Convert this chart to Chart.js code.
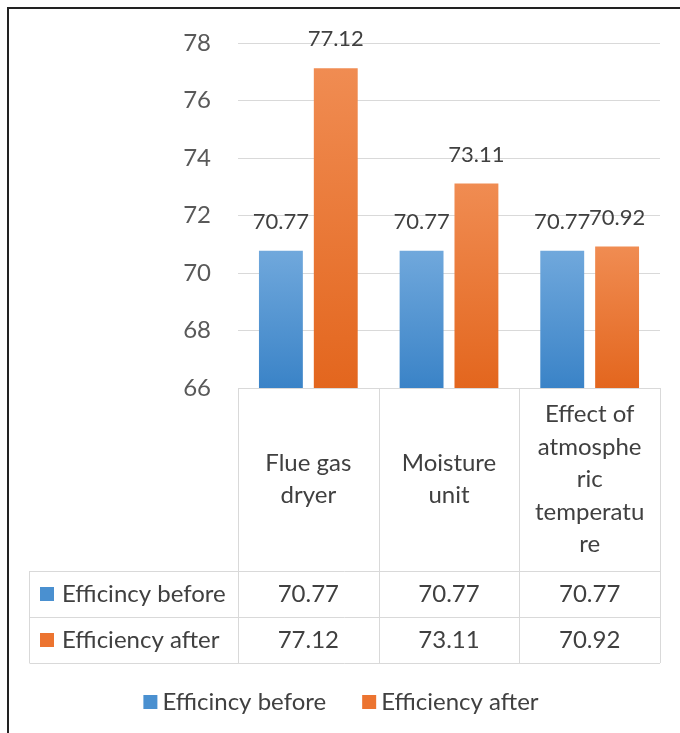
<!DOCTYPE html>
<html>
<head>
<meta charset="utf-8">
<script src="https://cdn.jsdelivr.net/npm/chart.js@4/dist/chart.umd.min.js"></script>
<style>
  html, body { margin: 0; padding: 0; background: #fff; }
  #wrap { position: relative; width: 680px; height: 733px; }
  #frame {
    position: absolute; left: 7px; top: 7px; right: 0; bottom: 0;
    border-left: 2px solid #222; border-top: 2px solid #222;
  }
  canvas { position: absolute; left: 0; top: 0; }
</style>
</head>
<body>
<div id="wrap">
  <div id="frame"></div>
  <canvas id="efficiencyChart" width="680" height="733"></canvas>
</div>
<script>
// chart data
const categories = ['Flue gas dryer', 'Moisture unit', 'Effect of atmospheric temperature'];
// how the category names wrap in the table header
const categoryLines = [
  ['Flue gas', 'dryer'],
  ['Moisture', 'unit'],
  ['Effect of', 'atmosphe', 'ric', 'temperatu', 're']
];
const seriesNames = ['Efficincy before', 'Efficiency after'];
const efficiencyBefore = [70.77, 70.77, 70.77];
const efficiencyAfter = [77.12, 73.11, 70.92];
const yTicks = [66, 68, 70, 72, 74, 76, 78];

const FONT = 'Lato, "Noto Sans", sans-serif';
const TEXT = '#404040';
const LINE = '#d9d9d9';
const swatch = ['#4a90d0', '#ec7430'];

function barGradient(top, bottom) {
  return function (c) {
    const chart = c.chart;
    const y = chart.scales.y;
    if (!y || c.raw === undefined) return bottom;
    const y0 = y.getPixelForValue(c.raw);
    const y1 = y.bottom;
    if (!isFinite(y0) || !isFinite(y1) || y0 === y1) return bottom;
    const g = chart.ctx.createLinearGradient(0, y0, 0, y1);
    g.addColorStop(0, top);
    g.addColorStop(1, bottom);
    return g;
  };
}

// value labels above the bars
const valueLabels = {
  id: 'valueLabels',
  afterDatasetsDraw(chart) {
    const ctx = chart.ctx;
    ctx.save();
    ctx.font = '22px ' + FONT;
    ctx.fillStyle = TEXT;
    ctx.textAlign = 'center';
    ctx.textBaseline = 'middle';
    chart.data.datasets.forEach((ds, i) => {
      chart.getDatasetMeta(i).data.forEach((bar, j) => {
        ctx.fillText(ds.data[j].toFixed(2), bar.x, bar.y - 29);
      });
    });
    ctx.restore();
  }
};

// data table + legend under the plot
const dataTable = {
  id: 'dataTable',
  afterDraw(chart) {
    const ctx = chart.ctx;
    const area = chart.chartArea;
    const n = chart.data.labels.length;
    const colW = (area.right - area.left) / n;
    const headBottom = 571, rowH = 46;
    const tableLeft = 29.5;
    const tableBottom = headBottom + rowH * 2;

    ctx.save();
    ctx.strokeStyle = LINE;
    ctx.lineWidth = 1;
    ctx.beginPath();
    for (let i = 0; i <= n; i++) {
      const x = Math.round(area.left + colW * i) + 0.5;
      ctx.moveTo(x, area.bottom);
      ctx.lineTo(x, tableBottom);
    }
    for (let r = 0; r <= 2; r++) {
      const y = headBottom + rowH * r + 0.5;
      ctx.moveTo(tableLeft, y);
      ctx.lineTo(area.right, y);
    }
    ctx.moveTo(tableLeft, headBottom);
    ctx.lineTo(tableLeft, tableBottom);
    ctx.stroke();

    ctx.font = '24px ' + FONT;
    ctx.fillStyle = TEXT;
    ctx.textBaseline = 'middle';
    ctx.textAlign = 'center';

    // header: category names
    const lh = 32.5;
    const midHead = (area.bottom + headBottom) / 2;
    categoryLines.forEach((lines, i) => {
      const cx = chart.scales.x.getPixelForValue(i);
      const y0 = midHead - (lines.length - 1) * lh / 2;
      lines.forEach((t, k) => ctx.fillText(t, cx, y0 + k * lh));
    });

    // rows
    chart.data.datasets.forEach((ds, r) => {
      const cy = headBottom + rowH * r + rowH / 2;
      ctx.fillStyle = swatch[r];
      ctx.fillRect(40, cy - 7, 14, 14);
      ctx.fillStyle = TEXT;
      ctx.textAlign = 'left';
      ctx.fillText(ds.label, 62, cy);
      ctx.textAlign = 'center';
      ds.data.forEach((v, i) => {
        ctx.fillText(v.toFixed(2), chart.scales.x.getPixelForValue(i), cy);
      });
    });

    // legend
    const ly = 702;
    const widths = chart.data.datasets.map(ds => ctx.measureText(ds.label).width);
    const box = 14, gap = 5, spacing = 36;
    const total = widths.reduce((a, w) => a + box + gap + w, 0) + spacing;
    let x = 341 - total / 2;
    ctx.textAlign = 'left';
    chart.data.datasets.forEach((ds, r) => {
      ctx.fillStyle = swatch[r];
      ctx.fillRect(x, ly - 7, box, box);
      ctx.fillStyle = TEXT;
      ctx.fillText(ds.label, x + box + gap, ly);
      x += box + gap + widths[r] + spacing;
    });
    ctx.restore();
  }
};

const ctx = document.getElementById('efficiencyChart').getContext('2d');

const data = {
  labels: categories,
  datasets: [
    {
      label: seriesNames[0],
      data: efficiencyBefore,
      backgroundColor: barGradient('#70a8dc', '#3a83c7')
    },
    {
      label: seriesNames[1],
      data: efficiencyAfter,
      backgroundColor: barGradient('#f08c52', '#e3661e')
    }
  ]
};

const config = {
  type: 'bar',
  data: data,
  options: {
    responsive: false,
    animation: false,
    layout: {
      padding: { top: 43, right: 20, bottom: 345, left: 0 }
    },
    datasets: {
      bar: { categoryPercentage: 0.78, barPercentage: 0.8 }
    },
    plugins: {
      legend: { display: false },
      tooltip: { enabled: false }
    },
    scales: {
      x: { display: false },
      y: {
        min: 66,
        max: 78,
        afterBuildTicks(scale) {
          scale.ticks = yTicks.map(v => ({ value: v }));
        },
        afterFit(scale) {
          scale.width = 238;
        },
        border: { display: false },
        grid: { color: LINE, drawTicks: false },
        ticks: {
          padding: 27,
          color: '#595959',
          font: { family: FONT, size: 24 }
        }
      }
    }
  },
  plugins: [valueLabels, dataTable]
};

const myChart = new Chart(ctx, config);
</script>
</body>
</html>
